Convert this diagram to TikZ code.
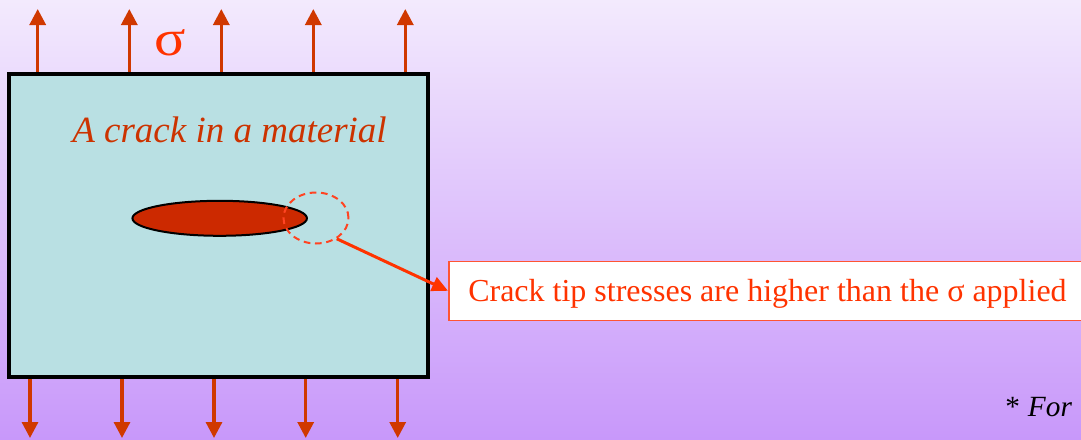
\documentclass[tikz,border=0pt]{standalone}
\usepackage{fontspec}
\setmainfont{Liberation Serif}
\usetikzlibrary{arrows.meta,shapes.geometric}
\definecolor{bgtop}{RGB}{243,234,253}
\definecolor{bgbot}{RGB}{200,152,250}
\definecolor{plateblue}{RGB}{185,224,227}
\definecolor{arrowred}{RGB}{208,56,0}
\definecolor{crackred}{RGB}{204,41,0}
\definecolor{textred}{RGB}{204,51,0}
\definecolor{brightred}{RGB}{255,51,0}
\definecolor{dashred}{RGB}{255,68,34}
\definecolor{boxedge}{RGB}{255,85,51}
\tikzset{
  loadarrow/.style={draw=arrowred, line width=2.4pt, -{Triangle[length=12pt,width=12pt]}},
  pointer/.style={draw=brightred, line width=2.25pt, -{Triangle[length=12pt,width=11pt]}},
}
\begin{document}
\begin{tikzpicture}[x=0.75pt,y=-0.75pt]
\useasboundingbox (0,0) rectangle (1081,439);
\clip (0,0) rectangle (1081,439);
\shade[top color=bgtop, bottom color=bgbot] (0,0) rectangle (1081,439);

% plate
\node[draw=black, fill=plateblue, line width=3pt, inner sep=0pt,
      minimum width=419*0.75pt, minimum height=303.5*0.75pt] (plate) at (218.5,225.25) {};

% top arrows
\foreach \i/\x in {1/37.7,2/129.3,3/221.3,4/313.3,5/405.3}{
  \coordinate (ts\i) at (\x,71.5);
  \coordinate (te\i) at (\x,9);
  \draw[loadarrow] (ts\i) -- (te\i);
}
% bottom arrows
\foreach \i/\x in {1/30,2/122,3/214,4/305.7,5/397.7}{
  \coordinate (bs\i) at (\x,379);
  \coordinate (be\i) at (\x,438);
  \draw[loadarrow] (bs\i) -- (be\i);
}

% sigma
\node[text=brightred, inner sep=0pt, font=\fontsize{38pt}{42pt}\selectfont] (sigma) at (170,42.5) {\scalebox{1.15}[1]{σ}};

% title
\node[text=textred, inner sep=0pt, anchor=base west,
      font=\fontsize{27.75pt}{30pt}\selectfont\itshape] (title) at (72,142.3) {A crack in a material};

% crack
\node[ellipse, draw=black, fill=crackred, line width=1.5pt, inner sep=0pt,
      minimum width=174.5*0.75pt, minimum height=35*0.75pt] (crack) at (219.7,218.3) {};

% dashed tip circle
\node[ellipse, draw=dashred, dashed, dash pattern=on 5pt off 3.5pt, line width=1.5pt, inner sep=0pt,
      minimum width=65*0.75pt, minimum height=51*0.75pt] (tip) at (316,218) {};

% note box
\node[draw=boxedge, fill=white, line width=1.2pt, inner sep=0pt, anchor=north west,
      minimum width=660*0.75pt, minimum height=59*0.75pt] (note) at (448,260.5) {};
\node[text=brightred, inner sep=0pt, anchor=base west,
      font=\fontsize{24pt}{28pt}\selectfont] (notetext) at (468,301.5) {Crack tip stresses are higher than the σ applied};

\draw[pointer] (tip.-45) -- (note.west);

% footnote
\node[text=black, inner sep=0pt, anchor=base west,
      font=\fontsize{22pt}{26pt}\selectfont] (foot) at (1005,416.7) {*\hspace{6pt}\textit{For}};
\end{tikzpicture}
\end{document}
